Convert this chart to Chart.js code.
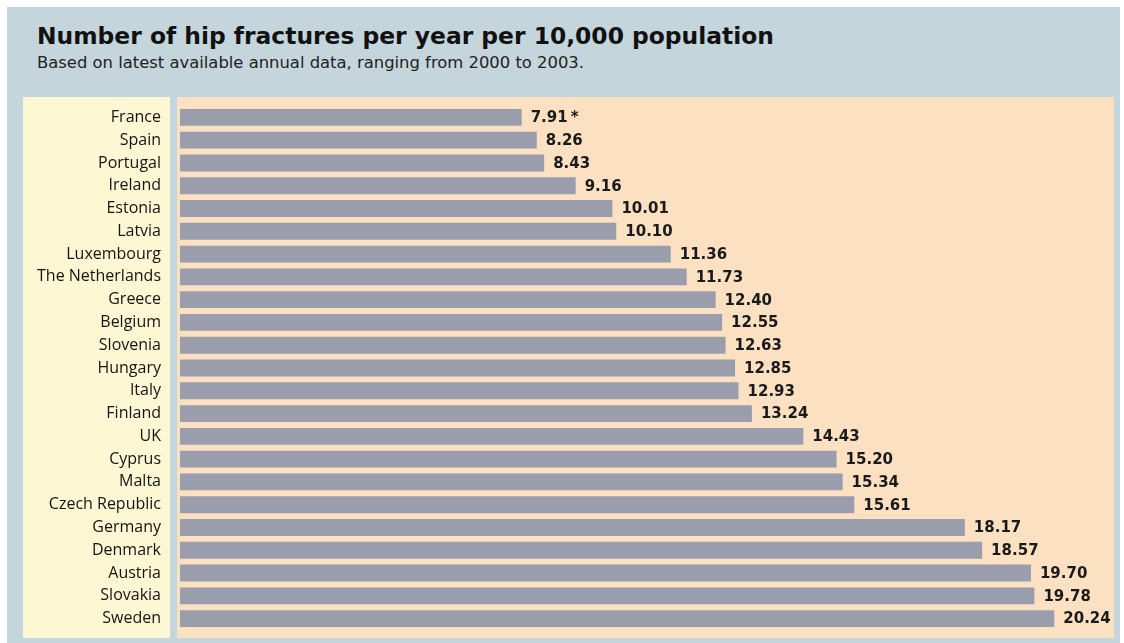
<!DOCTYPE html>
<html>
<head>
<meta charset="utf-8">
<script src="https://cdn.jsdelivr.net/npm/chart.js@4.4.1/dist/chart.umd.min.js"></script>
<style>
  html, body { margin: 0; padding: 0; background: #fff; }
  .frame { position: relative; width: 1124px; height: 643px; overflow: hidden; }
  .panel-header { position: absolute; left: 7px; top: 7px; width: 1113px; height: 636px; background: #c4d6dc; }
  .panel-labels { position: absolute; left: 23px; top: 97px; width: 147px; height: 541px; background: #fdf7d3; }
  .panel-plot { position: absolute; left: 177px; top: 97px; width: 937px; height: 541px; background: #fbe0c1; }
  .title { position: absolute; left: 37px; top: 22px; font: 700 23.4px 'DejaVu Sans', sans-serif; color: #111; }
  .subtitle { position: absolute; left: 37px; top: 53px; font: 400 16.4px 'DejaVu Sans', sans-serif; color: #222; }
  #chart-hip { position: absolute; left: 0; top: 0; }
</style>
</head>
<body>
<div class="frame">
  <div class="panel-header"></div>
  <div class="panel-labels"></div>
  <div class="panel-plot"></div>
  <div class="title">Number of hip fractures per year per 10,000 population</div>
  <div class="subtitle">Based on latest available annual data, ranging from 2000 to 2003.</div>
  <canvas id="chart-hip" width="1124" height="643"></canvas>
</div>
<script>
const countries = [
  'France', 'Spain', 'Portugal', 'Ireland', 'Estonia', 'Latvia', 'Luxembourg',
  'The Netherlands', 'Greece', 'Belgium', 'Slovenia', 'Hungary', 'Italy', 'Finland',
  'UK', 'Cyprus', 'Malta', 'Czech Republic', 'Germany', 'Denmark', 'Austria',
  'Slovakia', 'Sweden',
];
const fracturesPer10k = [
  7.91, 8.26, 8.43, 9.16, 10.01, 10.10, 11.36,
  11.73, 12.40, 12.55, 12.63, 12.85, 12.93, 13.24,
  14.43, 15.20, 15.34, 15.61, 18.17, 18.57, 19.70,
  19.78, 20.24,
];
// France's figure carries a footnote marker
const footnoteMarks = ['*'];

const valueLabels = {
  id: 'valueLabels',
  afterDatasetsDraw(chart) {
    const { ctx } = chart;
    const meta = chart.getDatasetMeta(0);
    ctx.save();
    ctx.font = '700 15px "DejaVu Sans", sans-serif';
    ctx.fillStyle = '#1a1a1a';
    ctx.textAlign = 'left';
    ctx.textBaseline = 'middle';
    meta.data.forEach((bar, i) => {
      let text = fracturesPer10k[i].toFixed(2);
      if (footnoteMarks[i]) text += '\u2009' + footnoteMarks[i];
      ctx.fillText(text, bar.x + 9, bar.y + 1);
    });
    ctx.restore();
  },
};

const ctx = document.getElementById('chart-hip').getContext('2d');
new Chart(ctx, {
  type: 'bar',
  data: {
    labels: countries,
    datasets: [{
      data: fracturesPer10k,
      backgroundColor: '#9a9dab',
      borderWidth: 0,
      barPercentage: 0.74,
      categoryPercentage: 1,
    }],
  },
  options: {
    indexAxis: 'y',
    responsive: false,
    animation: false,
    layout: { padding: { top: 106, bottom: 13, left: 0, right: 11 } },
    scales: {
      x: { display: false, min: 0, max: 21.6 },
      y: {
        grid: { display: false, drawTicks: false },
        border: { display: false },
        ticks: {
          color: '#141414',
          padding: 19,
          font: { family: 'Open Sans', size: 16 },
        },
        afterFit(scale) {
          // fixed label column; tick padding should not eat into the plot height
          scale.width = 180;
          scale.paddingTop = 0;
          scale.paddingBottom = 0;
        },
      },
    },
    plugins: {
      legend: { display: false },
      tooltip: { enabled: false },
    },
  },
  plugins: [valueLabels],
});
</script>
</body>
</html>
